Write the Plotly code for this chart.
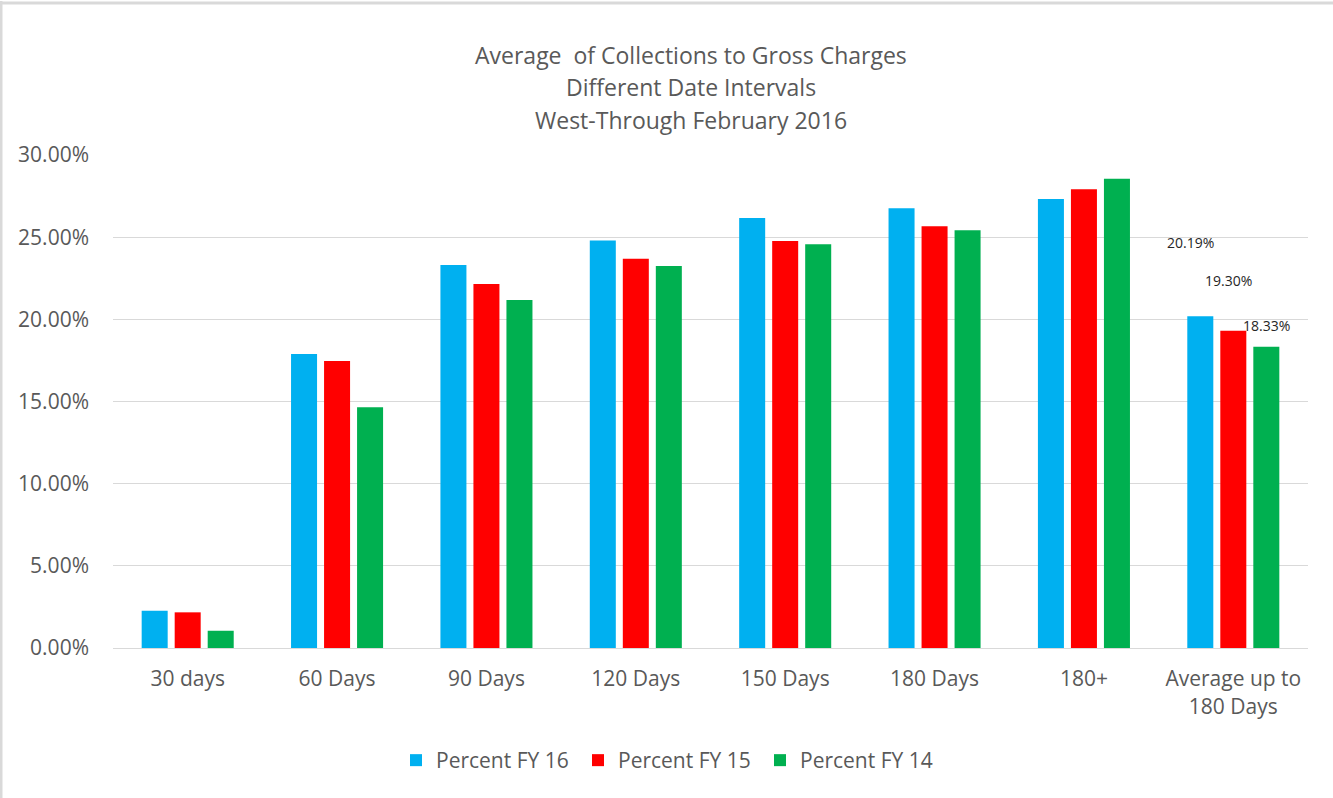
import plotly.graph_objects as go

categories = ["30 days", "60 Days", "90 Days", "120 Days", "150 Days", "180 Days", "180+",
              "Average up to<br>180 Days"]
fy16 = [0.0227, 0.1789, 0.2331, 0.2480, 0.2617, 0.2676, 0.2733, 0.2019]
fy15 = [0.0217, 0.1747, 0.2215, 0.2368, 0.2477, 0.2567, 0.2792, 0.1930]
fy14 = [0.0105, 0.1465, 0.2118, 0.2325, 0.2457, 0.2542, 0.2856, 0.1833]
series_names = ["Percent FY 16", "Percent FY 15", "Percent FY 14"]
series_colors = ["#00B0F0", "#FF0000", "#00B050"]
avg_labels = ["20.19%", "19.30%", "18.33%"]
avg_label_y = [0.2465, 0.2234, 0.1960]
avg_label_shift = [-43, -5, 33]
title_lines = ["Average  of Collections to Gross Charges", "Different Date Intervals",
               "West-Through February 2016"]

FONT = "Open Sans"
GRAY = "#595959"

fig = go.Figure()
for name, vals, col in zip(series_names, [fy16, fy15, fy14], series_colors):
    fig.add_trace(go.Bar(x=categories, y=vals, name=name, marker=dict(color=col, line=dict(width=0))))

W, H = 1333, 798
L, R, T, B = 113, 25, 155, 150
ph = H - T - B
pw = W - L - R

annotations = []
title_px = [55, 87, 120]
for line, py in zip(title_lines, title_px):
    annotations.append(dict(text=line, xref="paper", yref="paper", x=(691 - L) / pw,
                            y=(H - B - py) / ph, xanchor="center", yanchor="middle",
                            showarrow=False, font=dict(family=FONT, size=23, color=GRAY)))
for txt, yv, sh in zip(avg_labels, avg_label_y, avg_label_shift):
    annotations.append(dict(text=txt, x=categories[-1], y=yv, xref="x", yref="y", xshift=sh,
                            showarrow=False, xanchor="center", yanchor="middle",
                            font=dict(family=FONT, size=14, color="#262626")))

shapes = [
    dict(type="line", xref="paper", yref="paper", x0=(0 - L) / pw, x1=(W - L) / pw,
         y0=(H - B - 3) / ph, y1=(H - B - 3) / ph, line=dict(color="#D9D9D9", width=3)),
    dict(type="line", xref="paper", yref="paper", x0=(1 - L) / pw, x1=(1 - L) / pw,
         y0=(H - B - 1) / ph, y1=-B / ph, line=dict(color="#D9D9D9", width=3)),
]

fig.update_layout(
    width=W, height=H,
    margin=dict(l=L, r=R, t=T, b=B, autoexpand=False),
    paper_bgcolor="white", plot_bgcolor="white",
    barmode="group", bargap=0.337, bargroupgap=0.212,
    font=dict(family=FONT, color=GRAY),
    showlegend=True,
    legend=dict(orientation="h", x=(669 - L) / pw, xanchor="center", y=(H - B - 740) / ph,
                yanchor="top", font=dict(family=FONT, size=21, color=GRAY),
                itemwidth=30, entrywidth=137, entrywidthmode="pixels", traceorder="normal"),
    annotations=annotations,
    shapes=shapes,
)
fig.update_yaxes(range=[0, 0.30], dtick=0.05, tickformat=".2%", showgrid=True,
                 gridcolor="#D9D9D9", gridwidth=1, zeroline=False, showline=False,
                 tickfont=dict(family=FONT, size=21, color=GRAY), ticklabelstandoff=23)
fig.update_xaxes(showline=True, linecolor="#D9D9D9", linewidth=1, showgrid=False,
                 tickfont=dict(family=FONT, size=21, color=GRAY), ticklabelstandoff=12)

fig.write_html("out.html", config={"displayModeBar": False},
               post_script="document.body.style.margin='0';")
